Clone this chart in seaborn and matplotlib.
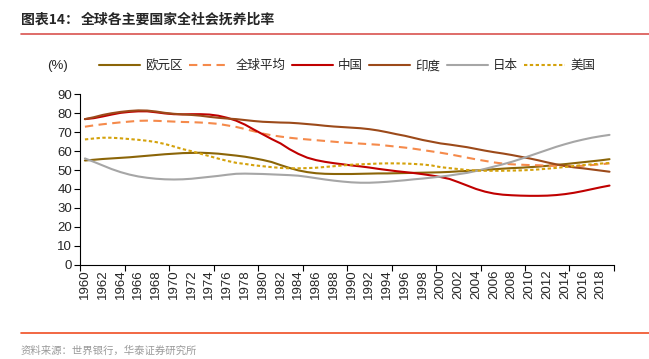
import numpy as np
import pandas as pd
import matplotlib
matplotlib.use("Agg")
import matplotlib.pyplot as plt
from matplotlib.ticker import FixedLocator, NullFormatter, FixedFormatter
import seaborn as sns

years = list(range(1960, 2020))

eurozone = [55.0, 55.4, 55.8, 56.1, 56.4, 56.7, 57.1, 57.5, 57.9, 58.3,
            58.6, 58.9, 59.0, 59.1, 58.9, 58.6, 58.1, 57.6, 57.0, 56.2,
            55.3, 54.2, 52.6, 51.1, 49.8, 48.9, 48.3, 48.0, 47.9, 47.9,
            47.9, 48.0, 48.1, 48.2, 48.2, 48.3, 48.4, 48.5, 48.6, 48.7,
            48.8, 49.0, 49.3, 49.5, 49.8, 50.1, 50.4, 50.7, 51.0, 51.2,
            51.5, 51.8, 52.2, 52.7, 53.1, 53.6, 54.1, 54.6, 55.1, 55.7]
world = [72.8, 73.5, 74.1, 74.6, 75.1, 75.5, 75.9, 76.0, 75.9, 75.7,
         75.5, 75.3, 75.2, 75.0, 74.7, 74.3, 73.5, 72.7, 71.6, 70.4,
         69.2, 68.3, 67.6, 67.0, 66.5, 66.1, 65.7, 65.3, 64.9, 64.5,
         64.2, 63.9, 63.6, 63.3, 62.8, 62.3, 61.8, 61.2, 60.5, 59.8,
         59.1, 58.3, 57.4, 56.5, 55.6, 54.8, 54.0, 53.4, 53.0, 52.8,
         52.6, 52.5, 52.3, 52.2, 52.1, 52.1, 52.2, 52.6, 53.0, 53.5]
china = [76.8, 77.3, 78.2, 79.2, 80.1, 80.6, 80.9, 80.9, 80.4, 79.8,
         79.4, 79.3, 79.4, 79.4, 79.2, 78.6, 77.5, 76.0, 73.9, 71.3,
         68.8, 66.3, 64.0, 61.0, 58.5, 56.5, 55.2, 54.3, 53.6, 53.0,
         52.4, 51.9, 51.3, 50.6, 50.0, 49.4, 48.9, 48.4, 47.8, 47.1,
         46.3, 45.3, 43.6, 41.8, 40.0, 38.6, 37.6, 37.0, 36.7, 36.5,
         36.4, 36.4, 36.5, 36.8, 37.3, 38.0, 38.9, 39.9, 40.9, 41.8]
india = [76.8, 77.8, 79.0, 79.9, 80.6, 81.1, 81.4, 81.3, 80.8, 80.1,
         79.6, 79.3, 79.0, 78.6, 78.0, 77.5, 77.1, 76.8, 76.3, 75.8,
         75.4, 75.2, 75.0, 74.9, 74.6, 74.2, 73.8, 73.3, 72.9, 72.6,
         72.3, 72.0, 71.5, 70.8, 69.9, 68.9, 68.0, 66.9, 65.8, 64.9,
         64.0, 63.4, 62.7, 62.0, 61.1, 60.2, 59.4, 58.7, 57.9, 57.0,
         56.1, 55.1, 54.0, 53.0, 52.1, 51.4, 50.9, 50.3, 49.7, 49.1]
japan = [56.1, 54.3, 52.4, 50.5, 48.9, 47.6, 46.6, 45.9, 45.4, 45.1,
         45.0, 45.1, 45.4, 45.9, 46.4, 46.9, 47.5, 48.0, 48.1, 48.0,
         47.9, 47.7, 47.5, 47.3, 47.0, 46.4, 45.7, 45.0, 44.4, 43.9,
         43.5, 43.3, 43.3, 43.5, 43.8, 44.2, 44.6, 45.1, 45.5, 46.0,
         46.5, 47.1, 47.8, 48.5, 49.5, 50.6, 51.8, 53.0, 54.3, 55.8,
         57.4, 59.0, 60.6, 62.2, 63.6, 64.9, 66.0, 67.0, 67.8, 68.5]
usa = [66.1, 66.6, 67.0, 67.0, 66.7, 66.3, 65.9, 65.4, 64.7, 63.7,
       62.4, 61.0, 59.9, 58.6, 57.3, 56.0, 54.8, 53.8, 53.2, 52.5,
       52.0, 51.5, 51.1, 50.9, 50.9, 51.0, 51.2, 51.6, 52.0, 52.4,
       52.8, 53.0, 53.2, 53.4, 53.5, 53.5, 53.4, 53.2, 52.9, 52.4,
       51.5, 51.0, 50.5, 50.0, 49.7, 49.6, 49.6, 49.6, 49.7, 49.8,
       50.0, 50.3, 50.7, 51.1, 51.6, 52.1, 52.6, 53.0, 53.4, 53.7]

series_names = ["欧元区", "全球平均", "中国", "印度", "日本", "美国"]
series_values = [eurozone, world, china, india, japan, usa]
yticks = list(range(0, 91, 10))
xlabels = [str(y) for y in years if y % 2 == 0]

styles = {
    "欧元区": dict(color="#8B6508", dashes=None),
    "全球平均": dict(color="#F58A4B", dashes=(4, 2.6)),
    "中国": dict(color="#C00000", dashes=None),
    "印度": dict(color="#9C4A1A", dashes=None),
    "日本": dict(color="#A6A6A6", dashes=None),
    "美国": dict(color="#D4A20C", dashes=(1.6, 1.2)),
}

sns.set_theme(style="ticks")
plt.rcParams["font.family"] = ["Liberation Sans", "Noto Sans CJK SC", "DejaVu Sans"]

fig = plt.figure(figsize=(6.49, 3.59), dpi=100)
ax = fig.add_axes([0.124, 0.262, 0.822, 0.476])

for name, vals in zip(series_names, series_values):
    df = pd.DataFrame({"year": years, "value": vals})
    st = styles[name]
    sns.lineplot(data=df, x="year", y="value", ax=ax, color=st["color"],
                 linewidth=1.5, label=name)
    l = ax.get_lines()[-1]
    if st["dashes"] is not None:
        l.set_dashes(st["dashes"])

ax.set_xlim(1959.5, 2019.5)
ax.set_ylim(0, 90)
ax.set_yticks(yticks)
ax.set_yticklabels([str(v) for v in yticks], fontsize=9.5)
ax.xaxis.set_major_locator(FixedLocator([1959.5 + 5 * k for k in range(13)]))
ax.xaxis.set_major_formatter(NullFormatter())
ax.xaxis.set_minor_locator(FixedLocator([y for y in years if y % 2 == 0]))
ax.xaxis.set_minor_formatter(FixedFormatter(xlabels))
ax.tick_params(axis="x", which="minor", length=0, labelsize=9.5, labelrotation=90, pad=3)
ax.tick_params(axis="x", which="major", length=4, width=0.8, color="black", direction="out")
ax.tick_params(axis="y", length=4, width=0.8, color="black", direction="out", pad=2)
ax.set_xlabel("")
ax.set_ylabel("")
for s in ["top", "right"]:
    ax.spines[s].set_visible(False)
for s in ["left", "bottom"]:
    ax.spines[s].set_color("black")
    ax.spines[s].set_linewidth(0.8)
ax.grid(False)
if ax.get_legend():
    ax.get_legend().remove()

handles, labels = ax.get_legend_handles_labels()
fig.legend(handles, labels, ncol=6, loc="center", bbox_to_anchor=(0.535, 0.817),
           frameon=False, handlelength=3.3, handletextpad=0.4,
           columnspacing=0.5, prop={"family": ["Noto Sans CJK SC"], "size": 9})

fig.text(0.072, 0.817, "(%)", ha="left", va="center", fontsize=9.5)

# Title and decorations
fig.text(0.032, 0.944, "图表14：", ha="left", va="center", fontsize=10, fontweight="bold",
         family=["Noto Sans CJK SC"])
fig.text(0.125, 0.944, "全球各主要国家全社会抚养比率", ha="left", va="center", fontsize=10,
         fontweight="bold", family=["Noto Sans CJK SC"])
fig.add_artist(plt.Line2D([0.032, 1.0], [1 - 34 / 359, 1 - 34 / 359], color="#D9534F", lw=1.2))
fig.add_artist(plt.Line2D([0.032, 1.0], [1 - 332.5 / 359, 1 - 332.5 / 359], color="#F04E23", lw=1.2))
fig.text(0.032, 1 - 351 / 359, "资料来源：世界银行，华泰证券研究所", ha="left", va="center",
         fontsize=7.5, color="#9A9A9A", family=["Noto Sans CJK SC"])

fig.savefig("out.png", dpi=100)
